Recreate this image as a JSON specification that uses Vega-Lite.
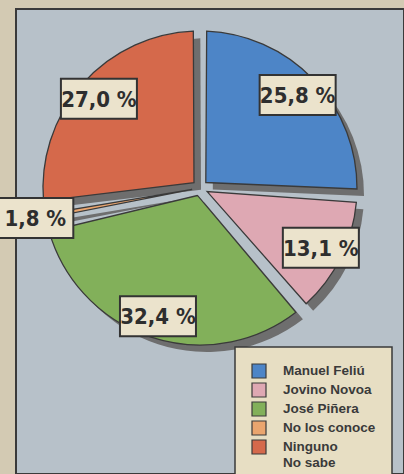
{
  "$schema": "https://vega.github.io/schema/vega-lite/v6.json",
  "width": 388,
  "height": 465,
  "padding": {"left": 16, "top": 9, "right": 0, "bottom": 0},
  "autosize": {"type": "none"},
  "background": "#d3cab3",
  "config": {
    "view": {"fill": "#b7c1c9", "stroke": "#3a3a3a", "strokeWidth": 2},
    "legend": {
      "orient": "none",
      "legendX": 219,
      "legendY": 338,
      "fillColor": "#e7dec3",
      "strokeColor": "#3a3a3a",
      "strokeWidth": 1.5,
      "padding": 16,
      "symbolType": "square",
      "symbolSize": 196,
      "symbolStrokeColor": "#3a3a3a",
      "symbolStrokeWidth": 1.2,
      "symbolOpacity": 1,
      "labelFont": "Liberation Sans",
      "labelFontSize": 13.5,
      "labelFontWeight": "bold",
      "labelColor": "#3a3a3a",
      "labelOffset": 16,
      "rowPadding": -1,
      "labelLimit": 200
    }
  },
  "data": {
    "values": [
      {"name": "Manuel Feliú", "value": 25.8},
      {"name": "Jovino Novoa", "value": 13.1},
      {"name": "José Piñera", "value": 32.4},
      {"name": "No los conoce", "value": 1.8},
      {"name": "Ninguno No sabe", "value": 27.0}
    ]
  },
  "transform": [
    {"window": [{"op": "row_number", "as": "i"}, {"op": "sum", "field": "value", "as": "cum"}], "frame": [null, 0]},
    {"joinaggregate": [{"op": "sum", "field": "value", "as": "total"}]},
    {"calculate": "2 * PI * (datum.cum - datum.value / 2) / datum.total", "as": "mid"},
    {"calculate": "datum.value < 5 ? 1.08 : 0.87", "as": "lr"},
    {"calculate": "datum.lr * sin(datum.mid)", "as": "lx"},
    {"calculate": "datum.lr * cos(datum.mid)", "as": "ly"},
    {"calculate": "replace(format(datum.value, '.1f'), '.', ',') + ' %'", "as": "label"}
  ],
  "layer": [
    {
      "mark": {"type": "arc", "outerRadius": 157, "innerRadius": 8, "padAngle": 0.085, "fill": "#6e6e6e", "xOffset": 7, "yOffset": 7},
      "encoding": {
        "x": {"datum": 0, "type": "quantitative", "scale": {"domain": [-1.187, 1.316]}, "axis": null},
        "y": {"datum": 0, "type": "quantitative", "scale": {"domain": [-1.845, 1.155]}, "axis": null},
        "theta": {"field": "value", "type": "quantitative", "stack": true},
        "order": {"field": "i", "type": "quantitative"}
      }
    },
    {
      "mark": {"type": "arc", "outerRadius": 157, "innerRadius": 8, "padAngle": 0.085, "stroke": "#3a3a3a", "strokeWidth": 1.3},
      "encoding": {
        "x": {"datum": 0, "type": "quantitative", "scale": {"domain": [-1.187, 1.316]}, "axis": null},
        "y": {"datum": 0, "type": "quantitative", "scale": {"domain": [-1.845, 1.155]}, "axis": null},
        "theta": {"field": "value", "type": "quantitative", "stack": true},
        "order": {"field": "i", "type": "quantitative"},
        "color": {
          "field": "name",
          "type": "nominal",
          "scale": {
            "domain": ["Manuel Feliú", "Jovino Novoa", "José Piñera", "No los conoce", "Ninguno No sabe"],
            "range": ["#4d85c7", "#dea8b3", "#82b05a", "#eaa56e", "#d5694b"]
          },
          "legend": {
            "title": null,
            "labelExpr": "datum.label == 'Ninguno No sabe' ? ['Ninguno', 'No sabe'] : datum.label"
          }
        }
      }
    },
    {
      "mark": {"type": "point", "shape": "M-1.9,-1H1.9V1H-1.9Z", "size": 1600, "filled": true, "fill": "#ebe3cc", "stroke": "#333333", "strokeWidth": 2, "opacity": 1},
      "encoding": {
        "x": {"field": "lx", "type": "quantitative", "scale": {"domain": [-1.187, 1.316]}, "axis": null},
        "y": {"field": "ly", "type": "quantitative", "scale": {"domain": [-1.845, 1.155]}, "axis": null}
      }
    },
    {
      "mark": {"type": "text", "font": "DejaVu Sans Condensed", "fontWeight": "bold", "fontSize": 22, "fill": "#2e2e2e", "baseline": "middle", "align": "center", "dy": 1},
      "encoding": {
        "x": {"field": "lx", "type": "quantitative", "scale": {"domain": [-1.187, 1.316]}, "axis": null},
        "y": {"field": "ly", "type": "quantitative", "scale": {"domain": [-1.845, 1.155]}, "axis": null},
        "text": {"field": "label", "type": "nominal"}
      }
    }
  ]
}
